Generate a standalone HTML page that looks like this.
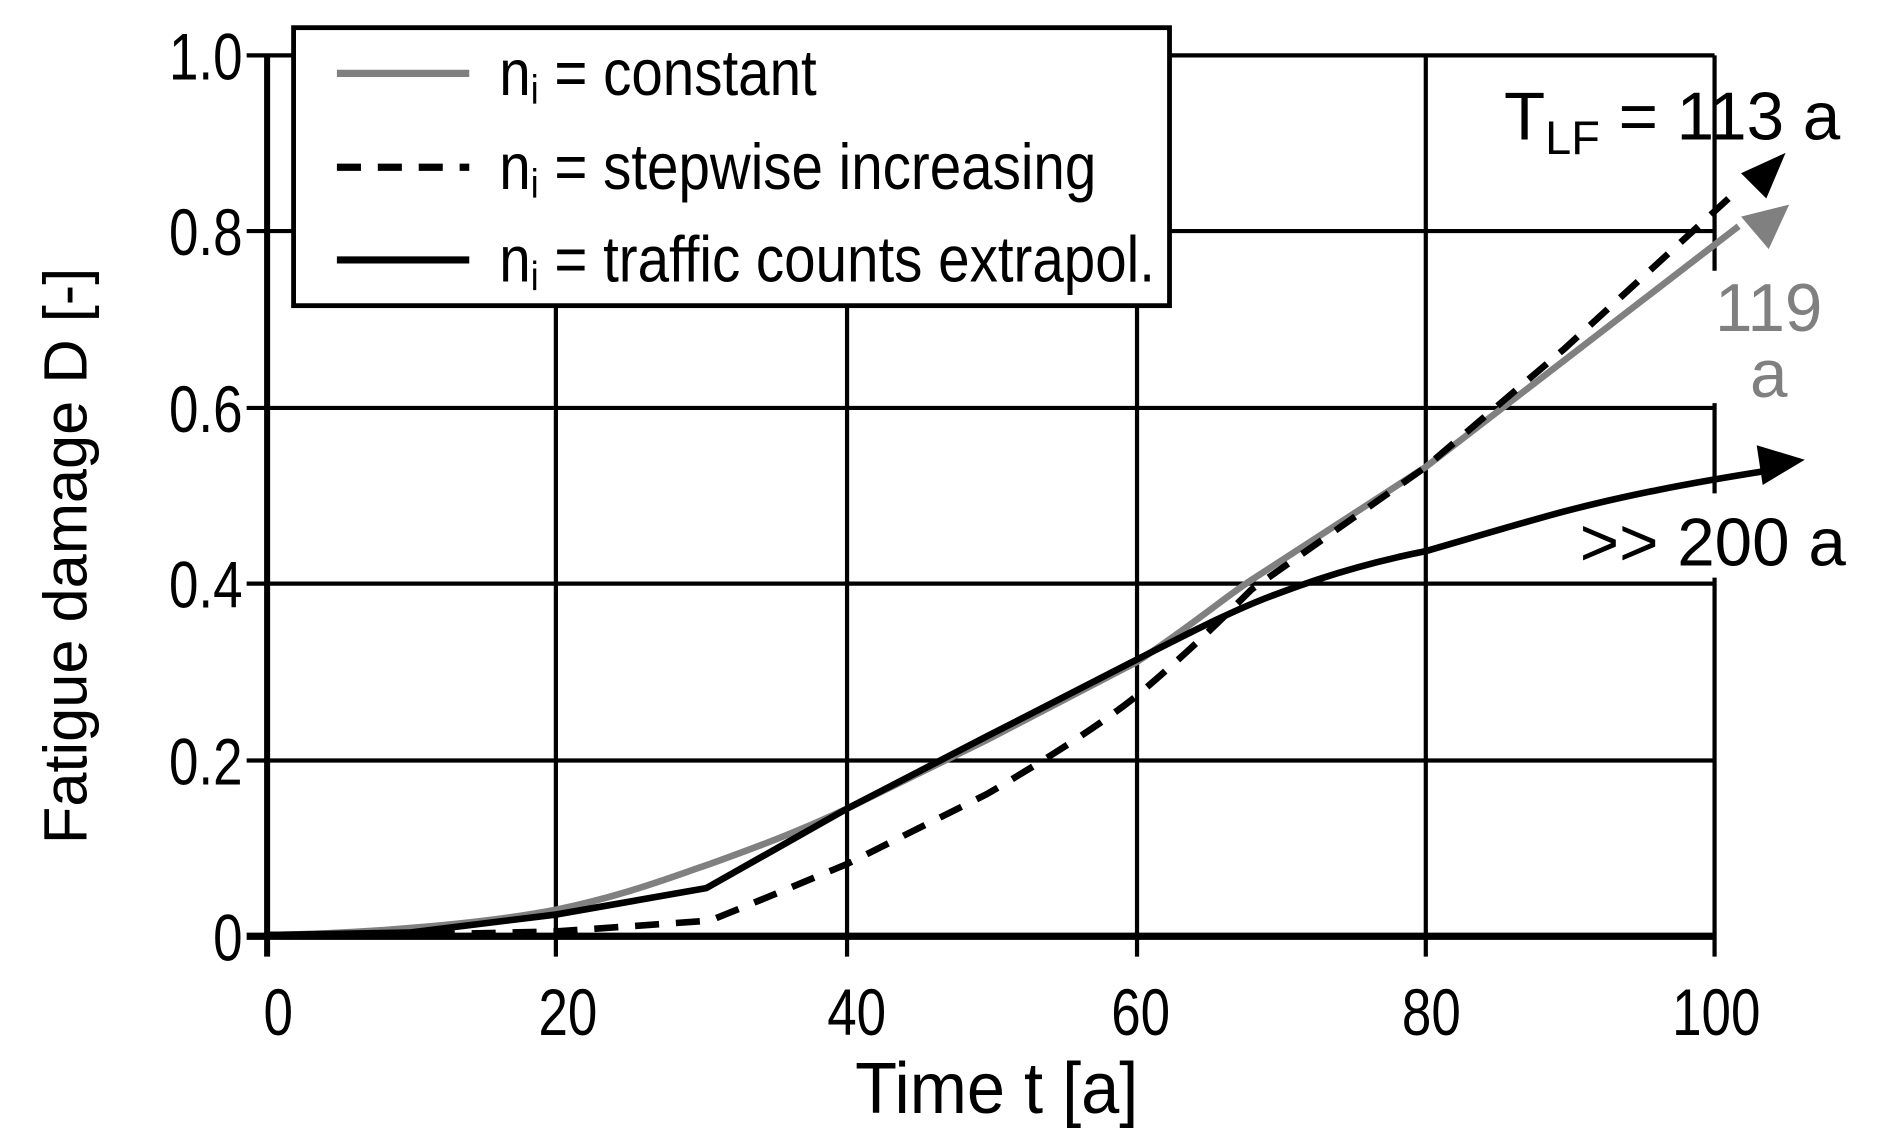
<!DOCTYPE html>
<html><head><meta charset="utf-8"><style>
html,body{margin:0;padding:0;background:#fff;}
svg{display:block;}
text{font-family:"Liberation Sans",sans-serif;}
</style></head><body>
<svg width="1877" height="1142" viewBox="0 0 1560 949" preserveAspectRatio="none" xmlns="http://www.w3.org/2000/svg">
<rect width="1560" height="949" fill="#fff"/>
<g stroke="#000" stroke-width="3.5" fill="none">
<line x1="205" y1="46" x2="1425" y2="46"/>
<line x1="205" y1="192" x2="1425" y2="192"/>
<line x1="205" y1="339" x2="1425" y2="339"/>
<line x1="205" y1="485" x2="1425" y2="485"/>
<line x1="205" y1="632" x2="1425" y2="632"/>
<line x1="462" y1="46" x2="462" y2="795"/>
<line x1="704" y1="46" x2="704" y2="795"/>
<line x1="945" y1="46" x2="945" y2="795"/>
<line x1="1185" y1="46" x2="1185" y2="795"/>
<line x1="1425" y1="46" x2="1425" y2="795"/>
<line x1="222" y1="46" x2="222" y2="795" stroke-width="5"/>
<line x1="205" y1="778" x2="1425" y2="778" stroke-width="6"/>
</g>
<rect x="1405" y="225" width="40" height="110" fill="#fff"/>
<rect x="1405" y="410" width="40" height="70" fill="#fff"/>
<g font-size="55" transform="scale(0.8,1)" text-anchor="end">
<text x="252" y="66">1.0</text>
<text x="252" y="212">0.8</text>
<text x="252" y="359">0.6</text>
<text x="252" y="505">0.4</text>
<text x="252" y="652">0.2</text>
<text x="252" y="798">0</text>
</g>
<g font-size="55" transform="scale(0.8,1)" text-anchor="middle">
<text x="289" y="860">0</text>
<text x="590" y="860">20</text>
<text x="890" y="860">40</text>
<text x="1185" y="860">60</text>
<text x="1487" y="860">80</text>
<text x="1783" y="860">100</text>
</g>
<text x="872" y="925" font-size="60" transform="scale(0.95,1)" text-anchor="middle">Time t [a]</text>
<text transform="translate(72,462) rotate(-90)" font-size="51" text-anchor="middle">Fatigue damage D [-]</text>
<!-- curves -->
<path d="M222,777 C300,776 400,768 462,756 C520,744 560,728 590,718 C640,700 670,688 704,672 L820,615 L945,550 C990,520 1020,495 1040,482 L1185,388 L1445,188" stroke="#808080" stroke-width="5.5" fill="none"/>
<polygon points="1487,170 1470,207 1447,180" fill="#808080"/>
<path d="M222,777 L380,776 L462,774 L520,770 L590,765 C640,745 670,732 704,718 L820,660 C880,625 920,598 945,578 C990,540 1020,510 1040,490 L1185,388 L1300,290 L1442,160" stroke="#000" stroke-width="5.5" fill="none" stroke-dasharray="20,14"/>
<polygon points="1484,127 1468,165 1447,144" fill="#000"/>
<path d="M222,777 L340,775 L462,760 L587,738 L704,672 L820,612 L945,548 C1000,520 1030,505 1060,494 C1110,475 1150,465 1185,458 C1240,442 1270,433 1300,425 C1350,412 1400,402 1470,391" stroke="#000" stroke-width="5.5" fill="none"/>
<polygon points="1500,382 1465,403 1460,370" fill="#000"/>
<!-- annotations -->
<g font-size="56">
<text x="1250" y="116">T<tspan font-size="39" dy="12">LF</tspan><tspan dy="-12"> = 113 a</tspan></text>
<text x="1470" y="275" fill="#808080" text-anchor="middle">119</text>
<text x="1470" y="330" fill="#808080" text-anchor="middle">a</text>
<text x="1313" y="470">&gt;&gt; 200 a</text>
</g>
<!-- legend -->
<rect x="244" y="23" width="728" height="231" fill="#fff" stroke="#000" stroke-width="4"/>
<line x1="280" y1="61" x2="390" y2="61" stroke="#808080" stroke-width="6"/>
<line x1="280" y1="139" x2="390" y2="139" stroke="#000" stroke-width="6" stroke-dasharray="20,14"/>
<line x1="280" y1="216" x2="390" y2="216" stroke="#000" stroke-width="6"/>
<g font-size="54" transform="scale(0.87,1)">
<text x="477" y="79">n<tspan font-size="34" dy="7">i</tspan><tspan dy="-7"> = constant</tspan></text>
<text x="477" y="157">n<tspan font-size="34" dy="7">i</tspan><tspan dy="-7"> = stepwise increasing</tspan></text>
<text x="477" y="234">n<tspan font-size="34" dy="7">i</tspan><tspan dy="-7"> = traffic counts extrapol.</tspan></text>
</g>
</svg>
</body></html>
